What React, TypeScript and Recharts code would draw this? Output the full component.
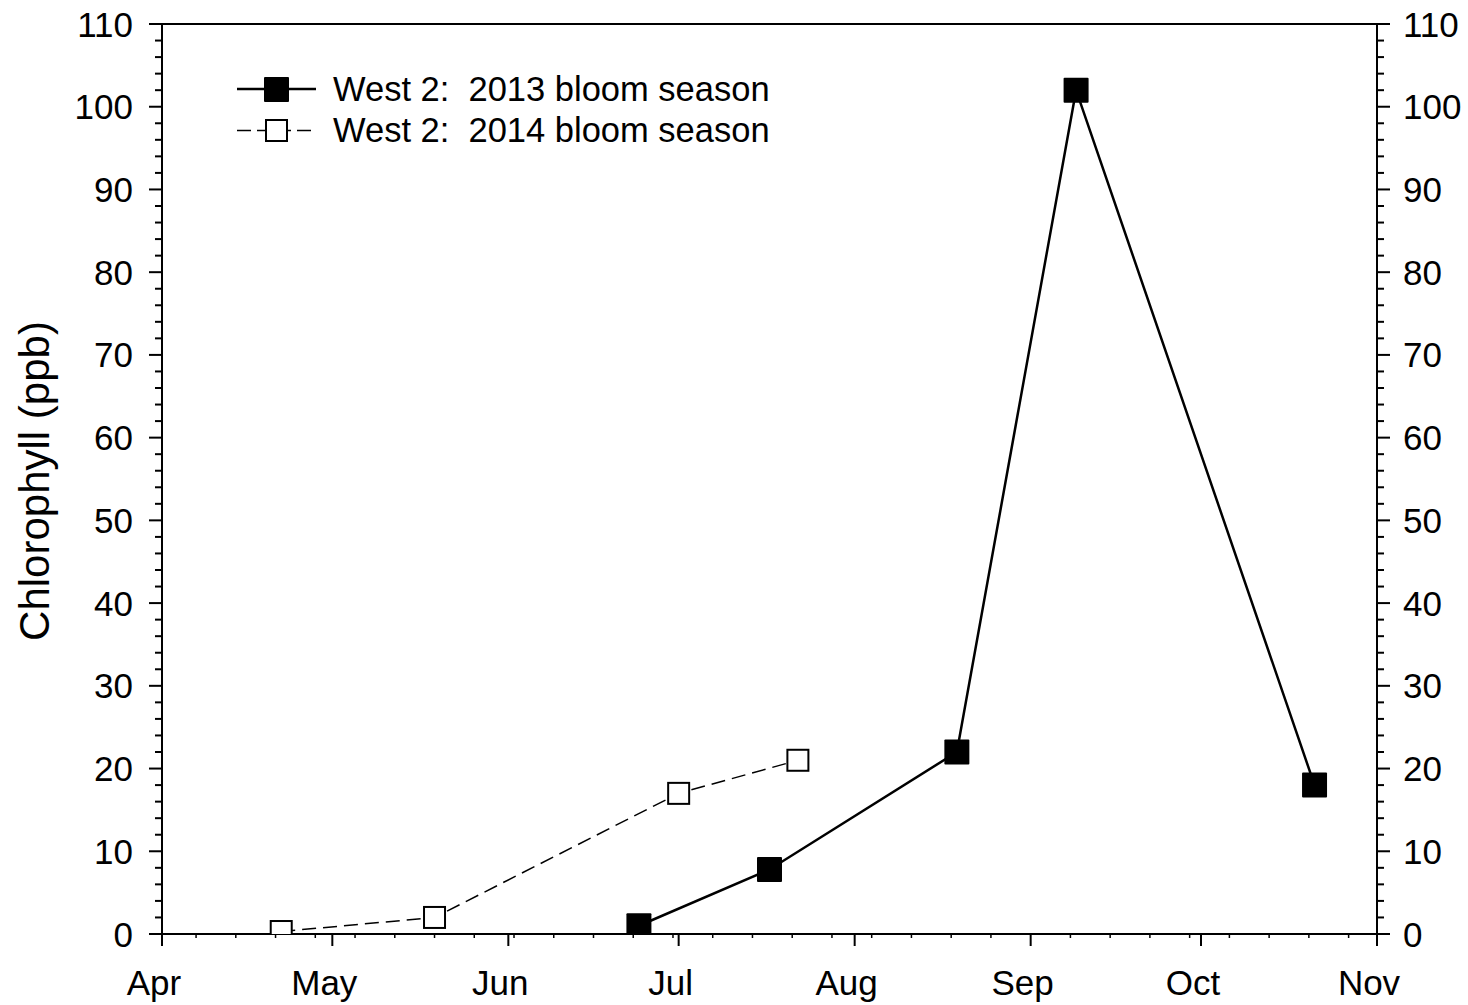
import React from 'react';
import { LineChart, Line, XAxis, YAxis, ReferenceLine, Legend } from 'recharts';

// Days are counted from April 1 so both seasons share one Apr–Nov axis.
const monthLabels = ['Apr', 'May', 'Jun', 'Jul', 'Aug', 'Sep', 'Oct', 'Nov'];
const monthStartDays = [0, 30, 61, 91, 122, 153, 183, 214];
const weekTickDays = [
  6, 13, 20, 27, 34, 41, 48, 55, 62, 69, 76, 83, 90, 97, 104, 111, 118, 125, 132, 139, 146,
  153, 160, 167, 174, 181, 188, 195, 202, 209,
];

const yMajorTicks = [0, 10, 20, 30, 40, 50, 60, 70, 80, 90, 100, 110];
const yMinorTicks = [
  2, 4, 6, 8, 12, 14, 16, 18, 22, 24, 26, 28, 32, 34, 36, 38, 42, 44, 46, 48, 52, 54, 56, 58,
  62, 64, 66, 68, 72, 74, 76, 78, 82, 84, 86, 88, 92, 94, 96, 98, 102, 104, 106, 108,
];

const name2013 = 'West 2:  2013 bloom season';
const days2013 = [84, 107, 140, 161, 203];
const chl2013 = [1, 7.8, 22, 102, 18];

const name2014 = 'West 2:  2014 bloom season';
const days2014 = [21, 48, 91, 112];
const chl2014 = [0.3, 2, 17, 21];

const data2013 = days2013.map((day, i) => ({ day, chl: chl2013[i] }));
const data2014 = days2014.map((day, i) => ({ day, chl: chl2014[i] }));

const xTicks = [...monthStartDays, ...weekTickDays.filter((d) => !monthStartDays.includes(d))].sort(
  (a, b) => a - b
);
const yTicks = [...yMajorTicks, ...yMinorTicks].sort((a, b) => a - b);

const FONT = '"Liberation Sans", Arial, Helvetica, sans-serif';
const INK = '#000';

const XTick = (props: any) => {
  const { x, y, payload } = props;
  const idx = monthStartDays.indexOf(payload.value);
  if (idx < 0) {
    return <line x1={x} x2={x} y1={y} y2={y + 4} stroke={INK} strokeWidth={1.5} />;
  }
  return (
    <g>
      <line x1={x} x2={x} y1={y} y2={y + 12} stroke={INK} strokeWidth={2} />
      <text x={x - 8} y={y + 61} textAnchor="middle" fontFamily={FONT} fontSize={35} fill={INK}>
        {monthLabels[idx]}
      </text>
    </g>
  );
};

const makeYTick = (side: 'left' | 'right') => (props: any) => {
  const { x, y, payload } = props;
  const dir = side === 'left' ? -1 : 1;
  const major = yMajorTicks.includes(payload.value);
  if (!major) {
    return <line x1={x} x2={x + dir * 7} y1={y} y2={y} stroke={INK} strokeWidth={2} />;
  }
  return (
    <g>
      <line x1={x} x2={x + dir * 13} y1={y} y2={y} stroke={INK} strokeWidth={2} />
      <text
        x={side === 'left' ? x - 29 : x + 26}
        y={y + 12.5}
        textAnchor={side === 'left' ? 'end' : 'start'}
        fontFamily={FONT}
        fontSize={35}
        fill={INK}
      >
        {payload.value}
      </text>
    </g>
  );
};

const YLabel = (props: any) => {
  const { viewBox } = props;
  const cx = viewBox.x - 33;
  const cy = viewBox.y + viewBox.height / 2 + 2;
  return (
    <text
      x={cx}
      y={cy}
      transform={`rotate(-90 ${cx} ${cy})`}
      textAnchor="middle"
      fontFamily={FONT}
      fontSize={42}
      fill={INK}
    >
      Chlorophyll (ppb)
    </text>
  );
};

const FilledSquare = (props: any) => {
  const { cx, cy, index } = props;
  const s = 25;
  return <rect key={`f-${index}`} x={cx - s / 2} y={cy - s / 2} width={s} height={s} fill={INK} rx={1} />;
};

const OpenSquare = (props: any) => {
  const { cx, cy, index } = props;
  const s = 21;
  return (
    <rect
      key={`o-${index}`}
      x={cx - s / 2}
      y={cy - s / 2}
      width={s}
      height={s}
      fill="#fff"
      stroke={INK}
      strokeWidth={2}
    />
  );
};

const LegendBox = () => (
  <svg width={900} height={170} style={{ display: 'block' }}>
    <line x1={237} x2={316} y1={89} y2={89} stroke={INK} strokeWidth={2.5} />
    <rect x={264} y={77} width={25} height={25} fill={INK} rx={1} />
    <text x={333} y={101} fontFamily={FONT} fontSize={34.5} fill={INK} style={{ whiteSpace: 'pre' }}>
      {name2013}
    </text>
    <line
      x1={237}
      x2={316}
      y1={130.5}
      y2={130.5}
      stroke={INK}
      strokeWidth={1.5}
      strokeDasharray="14 6"
    />
    <rect x={266} y={120} width={21} height={21} fill="#fff" stroke={INK} strokeWidth={2} />
    <text x={333} y={142} fontFamily={FONT} fontSize={34.5} fill={INK} style={{ whiteSpace: 'pre' }}>
      {name2014}
    </text>
  </svg>
);

export default function App() {
  return (
    <div style={{ position: 'absolute', left: 0, top: 0, background: '#fff' }}>
      <LineChart width={1468} height={1005} margin={{ top: 24, right: 11, bottom: 11, left: 82 }}>
        <XAxis
          dataKey="day"
          type="number"
          domain={[0, 214]}
          ticks={xTicks}
          interval={0}
          tickSize={0}
          tickMargin={0}
          tickLine={false}
          tick={XTick}
          axisLine={{ stroke: INK, strokeWidth: 2 }}
          height={60}
          allowDataOverflow
        />
        <YAxis
          yAxisId="left"
          domain={[0, 110]}
          ticks={yTicks}
          interval={0}
          tickSize={0}
          tickMargin={0}
          tickLine={false}
          tick={makeYTick('left')}
          axisLine={{ stroke: INK, strokeWidth: 2 }}
          width={80}
          allowDataOverflow
          label={<YLabel />}
        />
        <YAxis
          yAxisId="right"
          orientation="right"
          domain={[0, 110]}
          ticks={yTicks}
          interval={0}
          tickSize={0}
          tickMargin={0}
          tickLine={false}
          tick={makeYTick('right')}
          axisLine={{ stroke: INK, strokeWidth: 2 }}
          width={80}
          allowDataOverflow
        />
        <ReferenceLine yAxisId="left" y={110} stroke={INK} strokeWidth={2} />
        <Legend
          verticalAlign="middle"
          align="center"
          layout="horizontal"
          wrapperStyle={{ left: 0, top: 0, width: 900, height: 170 }}
          content={<LegendBox />}
        />
        <Line
          yAxisId="left"
          data={data2014}
          dataKey="chl"
          name={name2014}
          stroke={INK}
          strokeWidth={1.5}
          strokeDasharray="14 7"
          dot={OpenSquare}
          activeDot={false}
          isAnimationActive={false}
        />
        <Line
          yAxisId="left"
          data={data2013}
          dataKey="chl"
          name={name2013}
          stroke={INK}
          strokeWidth={2.5}
          dot={FilledSquare}
          activeDot={false}
          isAnimationActive={false}
        />
      </LineChart>
    </div>
  );
}
